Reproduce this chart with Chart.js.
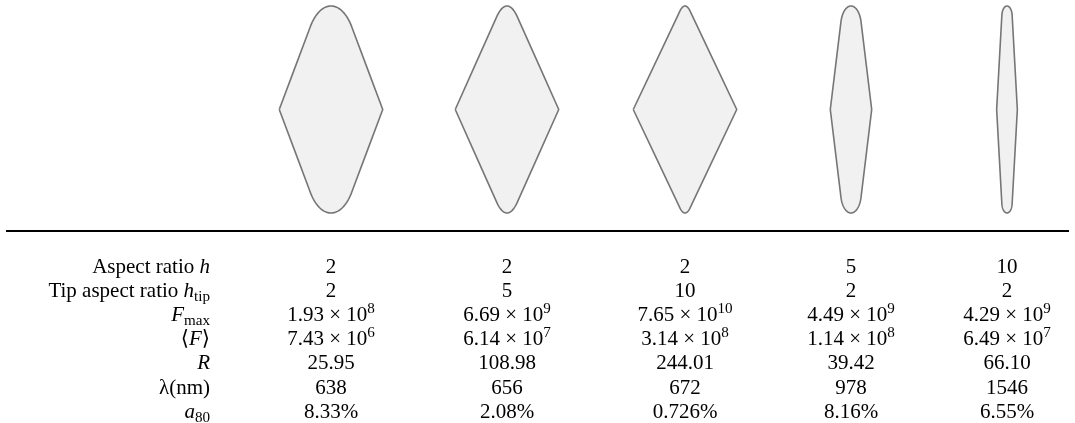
<!DOCTYPE html>
<html>
<head>
<meta charset="utf-8">
<script src="https://cdn.jsdelivr.net/npm/chart.js@4.4.1/dist/chart.umd.min.js"></script>
<style>
  html, body { margin: 0; padding: 0; background: #ffffff; }
  #wrap { width: 1075px; height: 423px; }
</style>
</head>
<body>
<div id="wrap"><canvas id="c" width="1075" height="423"></canvas></div>
<script>
// Particle geometry and computed properties, one entry per column
const shapeAspect   = [2, 2, 2, 5, 10];          // aspect ratio h
const tipAspect     = [2, 5, 10, 2, 2];          // tip aspect ratio h_tip
const fmaxMantissa  = ['1.93', '6.69', '7.65', '4.49', '4.29'];
const fmaxExponent  = ['8', '9', '10', '9', '9'];
const fmeanMantissa = ['7.43', '6.14', '3.14', '1.14', '6.49'];
const fmeanExponent = ['6', '7', '8', '8', '7'];
const ratioR        = ['25.95', '108.98', '244.01', '39.42', '66.10'];
const wavelengthNm  = ['638', '656', '672', '978', '1546'];
const a80           = ['8.33%', '2.08%', '0.726%', '8.16%', '6.55%'];

// Layout (canvas pixel units, used as the scale units)
const W_PX = 1075, H_PX = 423;
const colX = [331, 507, 685, 851, 1007];
const shapeCY = 109.5, shapeH = 207;
const ruleY = 231, ruleX0 = 6, ruleX1 = 1069;
const labelRight = 210;
const rowY = [266, 290, 314, 338, 362, 387, 411];
const FONT = '"Liberation Serif", "Times New Roman", "DejaVu Serif", serif';
const FS = 21;

// Rhombus of aspect ratio h whose top/bottom tips are capped by an
// ellipse of aspect ratio hTip (semi-width W/4) tangent to the sides.
function rhombusOutline(cx, cy, H, h, hTip) {
  const W = H / h;
  const a = W / 4, b = hTip * a;
  const uc = H / 2 - b;              // ellipse centre, measured up from cy
  const p = 2 / W;
  // side line: p*x + q*u = 1 with q = 1/A (A = sharp apex height); solve tangency
  const f = q => q * uc + Math.sqrt(p * p * a * a + q * q * b * b) - 1;
  let lo = 0, hi = 2 / H;
  for (let i = 0; i < 60; i++) {
    const mid = (lo + hi) / 2;
    if (f(mid) < 0) lo = mid; else hi = mid;
  }
  const q = (lo + hi) / 2;
  const t0 = Math.atan2(b * q, a * p);
  const n = 48;
  const pts = [{x: cx - W / 2, y: cy}];
  for (let i = 0; i <= n; i++) {          // top cap, left to right
    const t = (Math.PI - t0) + (t0 - (Math.PI - t0)) * i / n;
    pts.push({x: cx + a * Math.cos(t), y: cy - (uc + b * Math.sin(t))});
  }
  pts.push({x: cx + W / 2, y: cy});
  for (let i = 0; i <= n; i++) {          // bottom cap, right to left
    const t = t0 + ((Math.PI - t0) - t0) * i / n;
    pts.push({x: cx + a * Math.cos(t), y: cy + (uc + b * Math.sin(t))});
  }
  pts.push({x: cx - W / 2, y: cy});
  return pts;
}

const datasets = shapeAspect.map((h, i) => ({
  data: rhombusOutline(colX[i], shapeCY, shapeH, h, tipAspect[i]),
  showLine: true,
  fill: 'shape',
  backgroundColor: '#f1f1f1',
  borderColor: '#767676',
  borderWidth: 1.6,
  borderJoinStyle: 'round',
  pointRadius: 0,
  // a tiny tension keeps the outline on the regular path renderer
  // (the fast path merges points per pixel column)
  tension: 0.0001
}));

// Rich text rows: label segments and value segments
const rowLabels = [
  [{t: 'Aspect ratio '}, {t: 'h', it: true}],
  [{t: 'Tip aspect ratio '}, {t: 'h', it: true}, {t: 'tip', sub: true}],
  [{t: 'F', it: true}, {t: 'max', sub: true}],
  [{t: '\u27E8'}, {t: 'F', it: true}, {t: '\u27E9'}],
  [{t: 'R', it: true}],
  [{t: '\u03BB(nm)'}],
  [{t: 'a', it: true}, {t: '80', sub: true}]
];
const sci = (m, e) => [{t: m + ' \u00D7 10'}, {t: e, sup: true}];
const rowValues = [
  shapeAspect.map(v => [{t: String(v)}]),
  tipAspect.map(v => [{t: String(v)}]),
  fmaxMantissa.map((m, i) => sci(m, fmaxExponent[i])),
  fmeanMantissa.map((m, i) => sci(m, fmeanExponent[i])),
  ratioR.map(v => [{t: v}]),
  wavelengthNm.map(v => [{t: v}]),
  a80.map(v => [{t: v}])
];

function segFont(s) {
  const size = (s.sub || s.sup) ? FS * 0.72 : FS;
  return (s.it ? 'italic ' : '') + size + 'px ' + FONT;
}
function segWidth(ctx, segs) {
  let w = 0;
  segs.forEach(s => { ctx.font = segFont(s); w += ctx.measureText(s.t).width; });
  return w;
}
function drawSegs(ctx, segs, x, y, align) {
  const w = segWidth(ctx, segs);
  let cx = align === 'right' ? x - w : (align === 'center' ? x - w / 2 : x);
  segs.forEach(s => {
    ctx.font = segFont(s);
    let dy = 0;
    if (s.sub) dy = FS * 0.2;
    if (s.sup) dy = -FS * 0.36;
    ctx.fillText(s.t, cx, y + dy);
    cx += ctx.measureText(s.t).width;
  });
}

const tablePlugin = {
  id: 'tableText',
  afterDatasetsDraw(chart) {
    const ctx = chart.ctx;
    const xs = chart.scales.x, ys = chart.scales.y;
    ctx.save();
    // rule under the shapes
    ctx.strokeStyle = '#000000';
    ctx.lineWidth = 2;
    ctx.beginPath();
    ctx.moveTo(xs.getPixelForValue(ruleX0), ys.getPixelForValue(ruleY));
    ctx.lineTo(xs.getPixelForValue(ruleX1), ys.getPixelForValue(ruleY));
    ctx.stroke();
    // rows
    ctx.fillStyle = '#000000';
    ctx.textBaseline = 'alphabetic';
    rowLabels.forEach((segs, r) => {
      const base = ys.getPixelForValue(rowY[r]) + FS * 0.33;
      drawSegs(ctx, segs, xs.getPixelForValue(labelRight), base, 'right');
      rowValues[r].forEach((vsegs, c) => {
        drawSegs(ctx, vsegs, xs.getPixelForValue(colX[c]), base, 'center');
      });
    });
    ctx.restore();
  }
};

new Chart(document.getElementById('c'), {
  type: 'scatter',
  data: { datasets },
  options: {
    responsive: false,
    devicePixelRatio: 1,
    animation: false,
    layout: { padding: 0 },
    plugins: { legend: { display: false }, tooltip: { enabled: false } },
    scales: {
      x: { type: 'linear', min: 0, max: W_PX, display: false },
      y: { type: 'linear', min: 0, max: H_PX, reverse: true, display: false }
    }
  },
  plugins: [tablePlugin]
});
</script>
</body>
</html>
